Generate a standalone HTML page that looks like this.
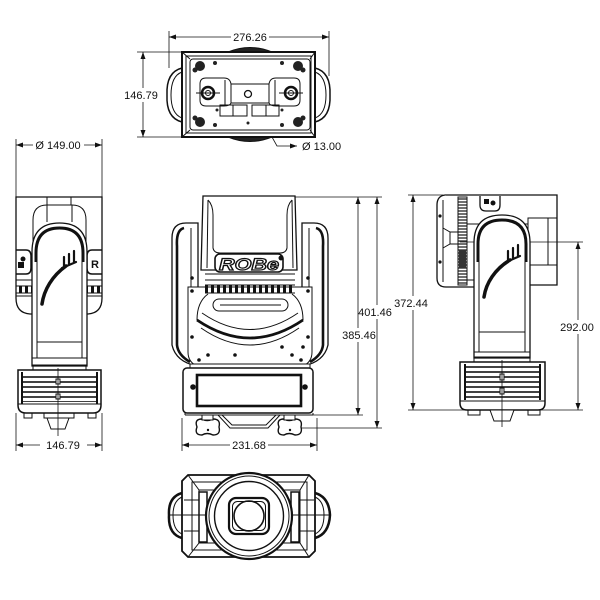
<!DOCTYPE html>
<html><head><meta charset="utf-8"><style>
html,body{margin:0;padding:0;background:#fff;}
svg{display:block;}
text{font-family:"Liberation Sans",Arial,sans-serif;fill:#111;}
</style></head><body>
<svg width="600" height="600" viewBox="0 0 600 600" xmlns="http://www.w3.org/2000/svg">
<defs>
<pattern id="rib" width="6" height="3" patternUnits="userSpaceOnUse"><line x1="0" y1="1" x2="6" y2="1" stroke="#111" stroke-width="1.2"/></pattern>
<pattern id="grille" width="6" height="5" patternUnits="userSpaceOnUse"><line x1="0" y1="2" x2="6" y2="2" stroke="#111" stroke-width="1.6"/></pattern>
<pattern id="vbars" width="6" height="8" patternUnits="userSpaceOnUse"><rect x="1" y="0" width="3" height="8" fill="#111"/></pattern>
</defs>
<rect width="600" height="600" fill="#fff"/>

<!-- ================= DIMENSIONS ================= -->
<g stroke="#111" stroke-width="0.8" fill="none">
  <line x1="169" y1="31" x2="169" y2="68"/><line x1="329" y1="31" x2="329" y2="76"/>
  <line x1="169" y1="37" x2="231" y2="37"/><line x1="269" y1="37" x2="329" y2="37"/>
  <line x1="137" y1="52" x2="182" y2="52"/><line x1="137" y1="137" x2="182" y2="137"/>
  <line x1="143" y1="52" x2="143" y2="88"/><line x1="143" y1="102" x2="143" y2="137"/>
  <polyline points="249,96 277,146 297,146"/>
  <line x1="16" y1="139" x2="16" y2="197"/><line x1="102" y1="139" x2="102" y2="197"/>
  <line x1="16" y1="145" x2="33" y2="145"/><line x1="84" y1="145" x2="102" y2="145"/>
  <line x1="16" y1="413" x2="16" y2="451"/><line x1="102" y1="413" x2="102" y2="451"/>
  <line x1="16" y1="445" x2="40" y2="445"/><line x1="87" y1="445" x2="102" y2="445"/>
  <line x1="182" y1="418" x2="182" y2="451"/><line x1="317" y1="418" x2="317" y2="451"/>
  <line x1="182" y1="445" x2="230" y2="445"/><line x1="268" y1="445" x2="317" y2="445"/>
  <line x1="295" y1="197" x2="382" y2="197"/>
  <line x1="300" y1="428" x2="382" y2="428"/>
  <line x1="313" y1="415" x2="363" y2="415"/>
  <line x1="377" y1="197" x2="377" y2="305"/><line x1="377" y1="319" x2="377" y2="428"/>
  <line x1="358" y1="197" x2="358" y2="328"/><line x1="358" y1="342" x2="358" y2="415"/>
  <line x1="408" y1="195" x2="443" y2="195"/>
  <line x1="408" y1="410" x2="583" y2="410"/>
  <line x1="413" y1="195" x2="413" y2="296"/><line x1="413" y1="310" x2="413" y2="410"/>
  <line x1="455" y1="242" x2="583" y2="242"/>
  <line x1="578" y1="242" x2="578" y2="320"/><line x1="578" y1="334" x2="578" y2="410"/>
</g>
<g fill="#111">
  <polygon points="169,37 176,34.5 176,39.5"/><polygon points="329,37 322,34.5 322,39.5"/>
  <polygon points="143,52 140.5,59 145.5,59"/><polygon points="143,137 140.5,130 145.5,130"/>
  <polygon points="16,145 23,142.5 23,147.5"/><polygon points="102,145 95,142.5 95,147.5"/>
  <polygon points="16,445 23,442.5 23,447.5"/><polygon points="102,445 95,442.5 95,447.5"/>
  <polygon points="182,445 189,442.5 189,447.5"/><polygon points="317,445 310,442.5 310,447.5"/>
  <polygon points="377,197 374.5,204 379.5,204"/><polygon points="377,428 374.5,421 379.5,421"/>
  <polygon points="358,197 355.5,204 360.5,204"/><polygon points="358,415 355.5,408 360.5,408"/>
  <polygon points="413,195 410.5,202 415.5,202"/><polygon points="413,410 410.5,403 415.5,403"/>
  <polygon points="578,242 575.5,249 580.5,249"/><polygon points="578,410 575.5,403 580.5,403"/>
  <polygon points="297,146 290,143.5 290,148.5"/>
</g>
<g font-size="11">
  <text x="250" y="41" text-anchor="middle">276.26</text>
  <text x="141" y="99" text-anchor="middle">146.79</text>
  <text x="302" y="150">Ø 13.00</text>
  <text x="58" y="149" text-anchor="middle">Ø 149.00</text>
  <text x="63" y="449" text-anchor="middle">146.79</text>
  <text x="249" y="449" text-anchor="middle">231.68</text>
  <text x="375" y="316" text-anchor="middle">401.46</text>
  <text x="359" y="339" text-anchor="middle">385.46</text>
  <text x="411" y="307" text-anchor="middle">372.44</text>
  <text x="577" y="331" text-anchor="middle">292.00</text>
</g>

<!-- ================= TOP VIEW ================= -->
<g stroke="#111" fill="none" stroke-width="1">
  <path d="M228,52 Q250,43 272,52 Z" fill="#222"/>
  <path d="M228,137 Q250,146 272,137 Z" fill="#222"/>
  <path d="M182,68 Q166,72 167,95 Q166,118 182,122" stroke-width="1.5" fill="#fff"/>
  <path d="M182,72 Q171,76 171,95 Q171,114 182,118"/>
  <path d="M315,68 Q331,72 330,95 Q331,118 315,122" stroke-width="1.5" fill="#fff"/>
  <path d="M315,72 Q326,76 326,95 Q326,114 315,118"/>
  <rect x="182" y="52" width="133" height="85" stroke-width="2" fill="#fff"/>
  <rect x="186" y="56" width="125" height="77"/>
  <rect x="190" y="59" width="120" height="71" rx="3"/>
  <line x1="182" y1="52" x2="190" y2="59"/><line x1="315" y1="52" x2="310" y2="59"/>
  <line x1="182" y1="137" x2="190" y2="130"/><line x1="315" y1="137" x2="310" y2="130"/>
  <path d="M200,84 Q200,78 206,78 H224 Q230,78 231,84 H269 Q270,78 276,78 H294 Q300,78 300,84 V100 Q300,106 294,106 H276 Q270,106 269,103 H231 Q230,106 224,106 H206 Q200,106 200,100 Z" fill="#fff"/>
  <line x1="231" y1="84" x2="231" y2="103"/><line x1="269" y1="84" x2="269" y2="103"/>
  <line x1="225" y1="80" x2="225" y2="105"/><line x1="275" y1="80" x2="275" y2="105"/>
  <rect x="220" y="105" width="27" height="11"/><rect x="252" y="105" width="27" height="11"/>
  <line x1="233" y1="105" x2="233" y2="116"/><line x1="266" y1="105" x2="266" y2="116"/>
  <circle cx="208" cy="93" r="6" stroke-width="2.5"/><circle cx="208" cy="93" r="2.5"/>
  <circle cx="291" cy="93" r="6" stroke-width="2.5"/><circle cx="291" cy="93" r="2.5"/>
  <line x1="196" y1="93" x2="220" y2="93"/><line x1="279" y1="93" x2="303" y2="93"/>
  <circle cx="248" cy="94" r="3.5" stroke-width="1.3"/>
</g>
<g fill="#222">
  <circle cx="200" cy="66" r="5"/><circle cx="298" cy="66" r="5"/>
  <circle cx="200" cy="122" r="5"/><circle cx="298" cy="122" r="5"/>
  <circle cx="195" cy="70" r="2.5"/><circle cx="303" cy="70" r="2.5"/>
  <circle cx="195" cy="118" r="2.5"/><circle cx="303" cy="118" r="2.5"/>
  <circle cx="215" cy="63" r="2"/><circle cx="282" cy="63" r="2"/>
  <circle cx="215" cy="125" r="2"/><circle cx="282" cy="125" r="2"/>
  <circle cx="217" cy="110" r="1.5"/><circle cx="282" cy="110" r="1.5"/>
  <circle cx="248" cy="123" r="1.5"/>
</g>

<!-- ================= LEFT VIEW ================= -->
<g stroke="#111" fill="none" stroke-width="1">
  <path d="M16,197 H102 V298 Q102,313 88,314 H30 Q16,313 16,298 Z" stroke-width="1.3" fill="#fff"/>
  <rect x="47" y="197" width="24" height="8"/>
  <path d="M33,252 V220 Q33,205 47,205 H72 Q86,205 86,220 V252" fill="#fff"/>
  <line x1="47" y1="205" x2="47" y2="222"/><line x1="72" y1="205" x2="72" y2="222"/>
  <path d="M16,250 H26 Q31,250 31,256 V268 Q31,274 26,274 H16" stroke-width="1.5"/>
  <path d="M102,250 H92 Q87,250 87,256 V268 Q87,274 92,274 H102" stroke-width="1.5"/>
  <rect x="16" y="286" width="16" height="7" fill="url(#vbars)"/>
  <rect x="86" y="286" width="16" height="7" fill="url(#vbars)"/>
  <line x1="16" y1="280" x2="32" y2="280"/><line x1="86" y1="280" x2="102" y2="280"/>
  <line x1="16" y1="296" x2="32" y2="296"/><line x1="86" y1="296" x2="102" y2="296"/>
  <path d="M32,366 V252 Q32,223 59.5,223 Q87,223 87,252 V366 Z" fill="#fff" stroke-width="1.3"/>
  <path d="M36,262 V253 Q36,228 59.5,228 Q83,228 83,253 V262" stroke-width="3"/>
  <line x1="37" y1="258" x2="37" y2="358"/><line x1="82" y1="258" x2="82" y2="358"/>
  <line x1="37" y1="342" x2="82" y2="342"/>
  <line x1="32" y1="358" x2="87" y2="358"/>
  <path d="M42,304 C44,290 52,276 66,266" stroke-width="3.5" stroke-linecap="round"/>
  <path d="M64,268 V257 M69,265 V254 M74,262 V251 M62,268 L76,262" stroke-width="2.2" stroke-linecap="round"/>
  <rect x="33" y="365" width="53" height="5"/>
  <path d="M18,370 H101 V405 Q101,413 93,413 H26 Q18,413 18,405 Z" stroke-width="1.5" fill="#fff"/>
  <rect x="22" y="374" width="75" height="28" fill="url(#grille)" stroke="none"/>
  <line x1="22" y1="372" x2="22" y2="404" stroke-width="2"/><line x1="97" y1="372" x2="97" y2="404" stroke-width="2"/>
  <line x1="18" y1="404" x2="101" y2="404"/>
  <rect x="56" y="379" width="4" height="5" fill="#fff"/><rect x="56" y="394" width="4" height="5" fill="#fff"/>
  <path d="M24,413 V418 H32 V413 M44,413 V418 H50 M68,418 H74 V413 M88,413 V418 H96 V413"/>
  <path d="M47,418 L51,429 H65 L69,418 Z" fill="#fff"/>
  <line x1="58" y1="368" x2="58" y2="436" stroke-width="0.8"/>
</g>
<g fill="#111">
  <circle cx="23" cy="259" r="2.5"/><rect x="18" y="262" width="6" height="6"/>
  <text x="91" y="268" font-size="11" font-weight="bold">R</text>
</g>

<!-- ================= FRONT VIEW ================= -->
<g stroke="#111" fill="none" stroke-width="1">
  <path d="M203,196 H295 L297,270 H201 Z" fill="#fff" stroke-width="1.3"/>
  <path d="M208,200 Q213,205 213,215 V248 Q214,253 220,253 H280 Q286,253 287,248 V215 Q287,205 292,200"/>
  <line x1="208" y1="200" x2="207" y2="268"/><line x1="292" y1="200" x2="293" y2="268"/>
  <path d="M197,366 Q176,362 172,345 V238 Q172,223 186,223 H198 V287" fill="#fff" stroke-width="1.3"/>
  <path d="M303,366 Q324,362 328,345 V238 Q328,223 314,223 H302 V287" fill="#fff" stroke-width="1.3"/>
  <path d="M184,228 Q176,230 177,246 V345 Q178,355 190,362" stroke-width="2.6"/>
  <path d="M316,228 Q324,230 323,246 V345 Q322,355 310,362" stroke-width="2.6"/>
  <line x1="191" y1="228" x2="191" y2="287"/><line x1="309" y1="228" x2="309" y2="287"/>
  <path d="M188,287 H312 V352 Q312,362 303,366 H197 Q188,362 188,352 Z" fill="#fff"/>
  <rect x="215" y="254" width="68" height="18" rx="5" stroke-width="1.6" fill="#fff"/>
  <line x1="205" y1="274" x2="295" y2="274"/><line x1="205" y1="280" x2="295" y2="280"/>
  <rect x="205" y="285" width="90" height="8" fill="url(#vbars)" stroke="none"/>
  <line x1="205" y1="285" x2="295" y2="285"/><line x1="205" y1="293" x2="295" y2="293"/>
  <path d="M197,320 Q197,302 208,294"/><path d="M303,320 Q303,302 292,294"/>
  <rect x="213" y="299" width="75" height="12" rx="6" fill="#fff"/>
  <line x1="220" y1="305" x2="281" y2="305"/>
  <path d="M202,313 Q250,346 298,313"/>
  <path d="M197,320 Q250,356 303,320" stroke-width="2.8"/>
  <path d="M201,328 Q250,362 299,328"/>
  <!-- base -->
  <rect x="190" y="364" width="120" height="5" fill="#fff"/>
  <rect x="183" y="368" width="130" height="45" rx="4" fill="#fff" stroke-width="1.5"/>
  <rect x="197" y="375" width="104" height="31" stroke-width="2.6"/>
  <line x1="185" y1="415" x2="313" y2="415"/>
  <line x1="185" y1="413" x2="185" y2="415"/><line x1="313" y1="413" x2="313" y2="415"/>
  <path d="M218,415 L230,428 H268 L280,415"/>
  <path d="M222,415 L232,425 H266 L276,415"/>
  <!-- clamps -->
  <path d="M197,427 Q194,419 202,419 Q207,422 213,419 Q221,419 219,427 Q221,435 213,435 Q207,432 202,435 Q194,435 197,427 Z" stroke-width="1.4" fill="#fff"/>
  <path d="M279,427 Q276,419 284,419 Q289,422 295,419 Q303,419 301,427 Q303,435 295,435 Q289,432 284,435 Q276,435 279,427 Z" stroke-width="1.4" fill="#fff"/>
  <rect x="202" y="415" width="11" height="5" fill="#fff"/><rect x="284" y="415" width="11" height="5" fill="#fff"/>
</g>
<text x="249" y="270" font-size="17" font-weight="bold" font-style="italic" text-anchor="middle" textLength="60" lengthAdjust="spacingAndGlyphs" style="fill:#fff;stroke:#111;stroke-width:1.2">ROBe</text>
<g fill="#111">
  <circle cx="281" cy="258" r="2.5"/>
  <circle cx="192" cy="278" r="1.8"/><circle cx="192" cy="291" r="1.8"/><circle cx="192" cy="337" r="1.8"/>
  <circle cx="308" cy="278" r="1.8"/><circle cx="308" cy="291" r="1.8"/><circle cx="308" cy="337" r="1.8"/>
  <circle cx="208" cy="355" r="1.8"/><circle cx="235" cy="355" r="1.8"/><circle cx="282" cy="347" r="1.8"/>
  <circle cx="292" cy="355" r="1.8"/><circle cx="303" cy="347" r="1.8"/><circle cx="199" cy="360" r="1.8"/>
  <circle cx="301" cy="360" r="1.8"/>
  <circle cx="193" cy="387" r="2.8"/><circle cx="305" cy="387" r="2.8"/>
  <circle cx="208" cy="430" r="1.2"/><circle cx="290" cy="430" r="1.2"/>
</g>

<!-- ================= SIDE VIEW ================= -->
<g stroke="#111" fill="none" stroke-width="1">
  <path d="M445,195 H557 V285 H530" stroke-width="1.3"/>
  <path d="M445,195 Q437,196 437,205 V278 Q437,287 446,287 H474" stroke-width="1.3" fill="#fff"/>
  <line x1="443" y1="200" x2="443" y2="282"/>
  <path d="M443,228 L450,232 H458 M443,248 L450,244 H458"/>
  <line x1="450" y1="232" x2="450" y2="244"/>
  <rect x="458" y="197" width="9" height="88" fill="url(#rib)"/>
  <rect x="459" y="250" width="7" height="18" fill="#333" stroke="none"/>
  <path d="M480,196 V205 Q480,211 486,211 H495 Q500,211 500,205 V196" stroke-width="1.3"/>
  <path d="M467,224 H528"/>
  <rect x="528" y="218" width="20" height="47"/>
  <line x1="548" y1="218" x2="557" y2="218"/><line x1="548" y1="265" x2="557" y2="265"/>
  <path d="M467,280 H474"/>
  <path d="M474,358 V243 Q474,215 502,215 Q530,215 530,243 V358 Z" fill="#fff" stroke-width="1.3"/>
  <path d="M478,262 V244 Q478,220 502,220 Q526,220 526,244 V262" stroke-width="3"/>
  <line x1="479" y1="258" x2="479" y2="352"/><line x1="525" y1="258" x2="525" y2="352"/>
  <line x1="479" y1="332" x2="525" y2="332"/>
  <line x1="474" y1="352" x2="530" y2="352"/>
  <path d="M484,297 C486,283 495,269 510,260" stroke-width="3.5" stroke-linecap="round"/>
  <path d="M508,262 V251 M513,259 V248 M518,256 V245 M506,262 L520,256" stroke-width="2.2" stroke-linecap="round"/>
  <rect x="474" y="357" width="56" height="5"/>
  <path d="M460,362 H545 V403 Q545,410 538,410 H467 Q460,410 460,403 Z" stroke-width="1.5" fill="#fff"/>
  <rect x="465" y="366" width="75" height="32" fill="url(#grille)" stroke="none"/>
  <line x1="465" y1="364" x2="465" y2="400" stroke-width="2"/><line x1="540" y1="364" x2="540" y2="400" stroke-width="2"/>
  <line x1="460" y1="401" x2="545" y2="401"/>
  <rect x="500" y="374" width="4" height="6" fill="#fff"/><rect x="500" y="388" width="4" height="6" fill="#fff"/>
  <path d="M468,410 V415 H480 V410 M528,410 V415 H540 V410"/>
  <path d="M490,410 L494,421 H510 L514,410 Z" fill="#fff"/>
  <line x1="502" y1="360" x2="502" y2="427" stroke-width="0.8"/>
</g>
<g fill="#111">
  <circle cx="440" cy="216" r="1.6"/><circle cx="440" cy="262" r="1.6"/>
  <circle cx="493" cy="203" r="2.5"/><rect x="484" y="199" width="5" height="5"/>
</g>

<!-- ================= BOTTOM VIEW ================= -->
<g stroke="#111" fill="none" stroke-width="1">
  <path d="M182,493 Q168,497 169,515 Q168,534 182,538" stroke-width="2.5" fill="#fff"/>
  <path d="M182,497 Q173,501 173,515 Q173,530 182,534"/>
  <path d="M315,493 Q329,497 330,515 Q329,534 315,538" stroke-width="2.5" fill="#fff"/>
  <path d="M315,497 Q324,501 324,515 Q324,530 315,534"/>
  <path d="M188,475 H309 L315,481 V551 L309,557 H188 L182,551 V481 Z" stroke-width="1.8" fill="#fff"/>
  <rect x="192" y="482" width="115" height="68"/>
  <rect x="199" y="490" width="101" height="53"/>
  <line x1="188" y1="475" x2="199" y2="490"/><line x1="309" y1="475" x2="300" y2="490"/>
  <line x1="188" y1="557" x2="199" y2="543"/><line x1="309" y1="557" x2="300" y2="543"/>
  <rect x="199" y="492" width="8" height="50" stroke-width="1.5"/>
  <rect x="291" y="492" width="8" height="50" stroke-width="1.5"/>
  <line x1="170" y1="515" x2="205" y2="515"/><line x1="293" y1="515" x2="329" y2="515"/>
  <line x1="184" y1="500" x2="199" y2="500"/><line x1="184" y1="531" x2="199" y2="531"/>
  <line x1="300" y1="500" x2="314" y2="500"/><line x1="300" y1="531" x2="314" y2="531"/>
  <circle cx="249" cy="516" r="43" stroke-width="2.2" fill="#fff"/>
  <circle cx="249" cy="516" r="40"/>
  <circle cx="249" cy="516" r="34.5" stroke-width="1.4"/>
  <rect x="229" y="498" width="40" height="36" rx="7" stroke-width="2.2"/>
  <rect x="232.5" y="501.5" width="33" height="29" rx="5"/>
  <circle cx="249" cy="516" r="15" stroke-width="1.6"/>
</g>
</svg>
</body></html>
